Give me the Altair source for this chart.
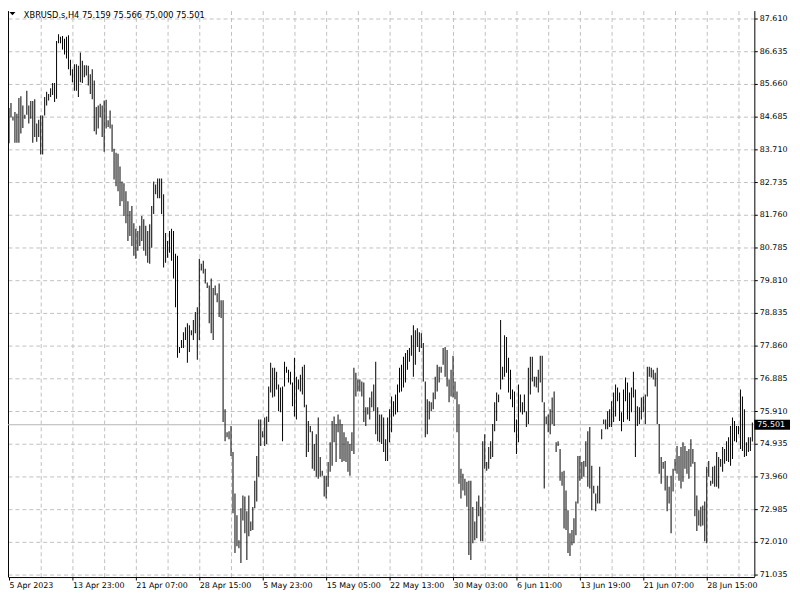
import json
import altair as alt
import pandas as pd

# ---- data (H4 bars: high / low) ----
highs = [
    84.94, 85.09, 84.69, 84.82, 84.77, 85.24, 85.29, 85.02, 84.74, 85.46,
    85.02, 85.15, 85.15, 85.20, 84.48, 84.59, 84.72, 84.72, 85.27, 85.43,
    85.36, 85.53, 85.69, 85.69, 86.94, 87.14, 87.07, 87.09, 87.01, 87.07,
    87.11, 86.38, 86.10, 86.25, 86.25, 86.20, 86.60, 86.35, 86.22, 86.22,
    86.20, 85.95, 86.10, 85.76, 84.97, 85.02, 85.07, 85.02, 85.17, 85.19,
    84.58, 84.87, 84.45, 83.73, 83.61, 83.58, 83.20, 82.75, 82.70, 82.46,
    82.16, 81.87, 82.02, 81.51, 81.34, 81.28, 81.43, 81.72, 81.63, 81.43,
    81.28, 81.48, 82.02, 82.75, 82.66, 82.84, 82.84, 82.84, 82.37, 81.22,
    80.98, 81.28, 81.34, 81.28, 80.60, 80.54, 77.82, 78.03, 78.26, 78.41,
    78.53, 78.47, 78.32, 78.62, 78.86, 79.00, 80.45, 80.30, 80.39, 80.15,
    79.74, 79.65, 79.86, 79.58, 79.65, 79.42, 79.71, 79.21, 79.21, 75.96,
    75.28, 75.31, 75.46, 74.69, 73.45, 72.80, 72.06, 73.01, 73.39, 73.36,
    72.92, 73.39, 72.62, 73.05, 73.83, 74.57, 75.66, 75.66, 75.31, 75.72,
    75.75, 76.64, 77.35, 77.20, 77.20, 77.08, 76.70, 76.61, 76.64, 77.38,
    77.23, 77.14, 77.08, 76.76, 77.50, 76.93, 76.85, 76.99, 77.23, 77.29,
    76.10, 75.61, 75.46, 75.31, 74.93, 75.22, 75.72, 74.54, 74.13, 73.98,
    73.98, 74.39, 74.98, 75.61, 75.75, 75.52, 75.81, 75.66, 75.52, 75.28,
    75.13, 75.01, 74.93, 75.28, 77.20, 77.05, 76.85, 76.85, 76.79, 76.76,
    76.02, 76.02, 76.31, 76.49, 76.70, 77.38, 76.02, 75.81, 75.81, 75.72,
    75.07, 75.72, 75.96, 76.34, 76.20, 76.40, 76.70, 77.20, 77.29, 77.53,
    77.64, 77.73, 77.79, 78.17, 78.47, 78.32, 78.38, 78.26, 78.23, 77.94,
    76.79, 76.26, 76.20, 76.17, 76.46, 76.93, 77.29, 77.23, 77.23, 77.79,
    77.82, 77.73, 76.85, 77.14, 77.56, 76.79, 76.49, 76.11, 74.19, 74.04,
    73.89, 73.80, 73.83, 73.83, 73.05, 72.62, 73.21, 73.39, 73.06, 75.01,
    75.22, 74.39, 74.84, 75.01, 75.52, 76.17, 76.46, 76.40, 78.62, 77.23,
    78.17, 78.12, 77.50, 77.14, 76.55, 76.49, 75.66, 76.70, 76.40, 76.17,
    76.40, 75.90, 77.20, 77.53, 77.53, 76.93, 76.93, 77.14, 77.56, 77.56,
    76.17, 75.75, 75.81, 75.96, 76.31, 76.49, 74.98, 75.01, 74.78, 74.10,
    74.13, 73.54, 72.95, 72.27, 72.36, 72.71, 73.21, 74.57, 74.57, 74.39,
    74.42, 75.01, 75.31, 75.43, 74.28, 73.68, 73.45, 73.68, 74.25, 75.37,
    75.66, 75.66, 75.90, 75.96, 76.20, 76.46, 76.70, 76.61, 76.46, 75.87,
    76.55, 76.91, 76.76, 76.46, 76.61, 77.08, 76.55, 76.05, 76.02, 76.31,
    76.34, 76.40, 77.23, 77.23, 77.20, 77.14, 77.05, 77.20, 75.52, 74.54,
    74.39, 74.42, 73.98, 73.65, 73.98, 74.19, 74.48, 74.87, 74.57, 74.84,
    74.98, 74.87, 74.72, 74.78, 75.07, 74.78, 74.39, 73.39, 72.95, 73.06,
    73.09, 73.21, 74.25, 74.42, 73.83, 74.25, 74.28, 74.69, 74.54, 74.48,
    74.84, 74.78, 75.01, 75.13, 75.46, 75.72, 75.61, 75.46, 75.46, 76.55,
    76.34, 75.96, 74.98, 75.13, 75.13, 75.566,
]
lows = [
    83.89, 84.67, 84.57, 83.91, 83.91, 83.91, 84.18, 84.35, 84.62, 84.74,
    84.48, 84.62, 83.91, 84.08, 83.94, 84.08, 83.56, 83.56, 84.72, 85.02,
    85.17, 85.27, 85.33, 85.12, 85.22, 86.87, 86.87, 86.69, 86.54, 86.42,
    86.10, 85.91, 85.71, 85.46, 85.46, 85.27, 85.71, 85.69, 85.86, 85.91,
    85.61, 85.36, 85.20, 84.25, 84.15, 84.33, 84.67, 84.08, 83.64, 84.33,
    84.38, 84.33, 83.64, 82.81, 82.61, 82.46, 82.02, 82.16, 81.72, 81.51,
    80.98, 81.13, 80.83, 80.54, 80.45, 80.69, 80.83, 80.98, 80.69, 80.54,
    80.33, 80.30, 80.78, 81.78, 82.37, 82.25, 82.25, 81.78, 80.19, 80.33,
    80.48, 80.63, 80.39, 79.86, 79.00, 77.50, 77.64, 77.79, 77.79, 78.03,
    77.35, 77.67, 78.17, 78.03, 78.23, 77.44, 78.03, 80.10, 80.01, 79.71,
    79.58, 78.53, 78.23, 78.03, 79.36, 79.15, 78.71, 78.68, 75.58, 75.01,
    75.13, 75.07, 74.57, 72.86, 71.68, 71.88, 71.82, 71.38, 72.65, 72.27,
    71.47, 72.18, 72.33, 72.36, 73.01, 73.21, 73.95, 74.87, 75.13, 74.87,
    74.93, 75.58, 76.46, 76.31, 76.34, 76.55, 75.90, 75.87, 75.01, 76.64,
    77.05, 76.76, 76.70, 76.05, 75.75, 75.66, 76.55, 76.49, 76.40, 76.02,
    74.54, 74.69, 75.28, 74.19, 74.13, 73.95, 73.89, 73.95, 73.98, 73.36,
    73.30, 73.65, 74.10, 74.28, 74.98, 74.39, 75.28, 74.48, 74.39, 74.42,
    74.39, 74.10, 73.98, 74.72, 74.63, 76.34, 76.49, 76.49, 76.34, 75.58,
    75.46, 75.81, 75.66, 76.02, 75.90, 75.22, 75.01, 74.98, 74.93, 74.69,
    74.42, 74.42, 74.98, 75.28, 75.75, 75.81, 75.87, 76.46, 76.49, 76.61,
    76.76, 77.14, 77.38, 77.56, 76.93, 77.29, 77.82, 77.67, 77.79, 76.79,
    75.13, 75.22, 75.66, 75.90, 75.96, 76.26, 76.49, 76.76, 77.05, 77.29,
    76.93, 76.64, 76.17, 76.34, 76.31, 76.26, 75.28, 73.74, 73.30, 73.54,
    73.39, 73.06, 71.62, 71.47, 71.97, 72.06, 72.12, 72.77, 72.03, 72.03,
    74.19, 74.13, 74.19, 74.48, 74.54, 75.31, 75.61, 76.17, 76.55, 76.85,
    76.93, 77.05, 76.46, 76.26, 76.02, 75.28, 74.63, 74.98, 75.87, 75.81,
    75.87, 75.43, 75.52, 76.40, 76.79, 76.64, 76.61, 76.46, 76.76, 76.17,
    73.60, 75.52, 75.28, 75.22, 75.52, 75.46, 74.69, 74.87, 73.83, 73.68,
    72.41, 72.36, 71.68, 71.59, 71.91, 71.97, 72.21, 73.15, 73.83, 73.89,
    73.95, 74.25, 73.65, 73.60, 72.95, 73.45, 72.92, 73.15, 73.15, 75.07,
    75.52, 75.37, 75.37, 75.43, 75.43, 75.58, 75.75, 76.20, 75.61, 75.31,
    75.58, 76.20, 75.66, 75.61, 75.87, 76.31, 74.54, 75.46, 75.52, 75.66,
    75.87, 75.52, 76.34, 76.93, 76.91, 76.85, 76.64, 75.52, 74.04, 73.74,
    74.19, 73.54, 72.92, 73.15, 72.27, 73.51, 74.13, 74.04, 73.83, 73.60,
    73.80, 74.19, 74.04, 73.89, 74.25, 74.34, 72.77, 72.33, 72.50, 72.47,
    72.50, 72.03, 71.97, 73.95, 73.68, 73.74, 73.65, 73.65, 73.60, 74.25,
    74.10, 74.34, 74.42, 74.39, 74.28, 74.48, 75.01, 74.98, 75.22, 74.78,
    74.72, 74.54, 74.57, 74.69, 74.72, 75.000,
]

time_labels = ["5 Apr 2023", "13 Apr 23:00", "21 Apr 07:00", "28 Apr 15:00",
               "5 May 23:00", "15 May 05:00", "22 May 13:00", "30 May 03:00",
               "6 Jun 11:00", "13 Jun 19:00", "21 Jun 07:00", "28 Jun 15:00"]
grid_bars = [0, 16, 32, 48, 64, 80, 96, 112, 128, 144, 160, 176, 192, 208,
             224, 240, 256, 272, 288, 304, 320, 336, 352, 368]
price_ticks = [71.035, 72.010, 72.985, 73.960, 74.935, 75.910, 76.885, 77.860,
               78.835, 79.810, 80.785, 81.760, 82.735, 83.710, 84.685, 85.660,
               86.635, 87.610]
symbol = "XBRUSD.s,H4"
last_open, last_high, last_low, last_close = 75.159, 75.566, 75.000, 75.501

FONT = "DejaVu Sans"
GRID = "#c0c0c0"

df = pd.DataFrame({"bar": list(range(len(highs))), "high": highs, "low": lows})
price_df = pd.DataFrame({"price": [last_close], "label": [f"{last_close:.3f}"]})
header_df = pd.DataFrame({"t": [f"{symbol}  {last_open:.3f} {last_high:.3f} {last_low:.3f} {last_close:.3f}"]})

xscale = alt.Scale(domain=[-0.5, 376.0], nice=False, zero=False, padding=0)
yscale = alt.Scale(domain=[70.9759, 87.8464], nice=False, zero=False)

label_expr = f"datum.value % 32 === 0 ? {json.dumps(time_labels)}[round(datum.value / 32)] : ''"

bars = alt.Chart(df).mark_bar(color="black", width=1, opacity=1).encode(
    x=alt.X("bar:Q", scale=xscale, axis=alt.Axis(
        orient="bottom", values=grid_bars, title=None,
        grid=True, gridDash=[4, 3], gridWidth=1,
        gridColor={"condition": {"test": "datum.value === 0", "value": "transparent"}, "value": GRID},
        ticks=True, tickSize=3, tickWidth=1,
        tickColor={"condition": {"test": "datum.value % 32 === 0", "value": "black"}, "value": "transparent"},
        domain=True, domainColor="black", domainWidth=1,
        offset=0.5,
        labelExpr=label_expr, labelAlign="left", labelBaseline="top", labelPadding=2,
        labelFont=FONT, labelFontSize=8, labelColor="black",
        labelOverlap=False, labelFlush=False, labelBound=False)),
    y=alt.Y("low:Q", scale=yscale, axis=alt.Axis(
        orient="right", values=price_ticks, format=".3f", title=None,
        grid=True, gridDash=[4, 3], gridColor=GRID, gridWidth=1,
        tickSize=3, tickColor="black", tickWidth=1,
        domain=True, domainColor="black", domainWidth=1,
        labelFont=FONT, labelFontSize=8, labelColor="black", labelPadding=2,
        labelBaseline="middle", labelOverlap=False, labelFlush=False, labelBound=False)),
    y2="high:Q",
)

pline = alt.Chart(price_df).mark_rule(color="#b4b4b4", strokeWidth=1).encode(
    y=alt.Y("price:Q", scale=yscale, axis=alt.Axis(
        orient="left", labels=False, ticks=False, grid=False, title=None,
        domain=True, domainColor="black", domainWidth=1)),
)

pbox = alt.Chart(price_df).mark_rule(color="black", strokeWidth=10, strokeCap="butt").encode(
    x=alt.value(753), x2=alt.value(789),
    y=alt.Y("price:Q", scale=yscale, axis=None),
)

ptext = alt.Chart(price_df).mark_text(color="white", align="left", baseline="middle",
                                      font=FONT, fontSize=8).encode(
    x=alt.value(756),
    y=alt.Y("price:Q", scale=yscale, axis=None),
    text="label:N",
)

header = alt.Chart(header_df).mark_text(color="black", align="left", baseline="alphabetic",
                                        font=FONT, fontSize=8.3).encode(
    x=alt.value(16), y=alt.value(7), text="t:N",
)

tri = alt.Chart(header_df).mark_point(shape="M -1 -0.55 L 1 -0.55 L 0 0.6 Z", filled=True,
                                      color="black", size=36, opacity=1).encode(
    x=alt.value(4.5), y=alt.value(3),
)

chart = alt.layer(pline, bars, pbox, ptext, header, tri).resolve_axis(
    y="independent"
).properties(
    width=753, height=571,
    padding={"left": 0, "top": 0, "right": 38, "bottom": 16},
    autosize=alt.AutoSizeParams(type="none"),
    background="white",
).configure_view(stroke=None)

chart.save("out.html", embed_options={"renderer": "svg", "actions": False})
